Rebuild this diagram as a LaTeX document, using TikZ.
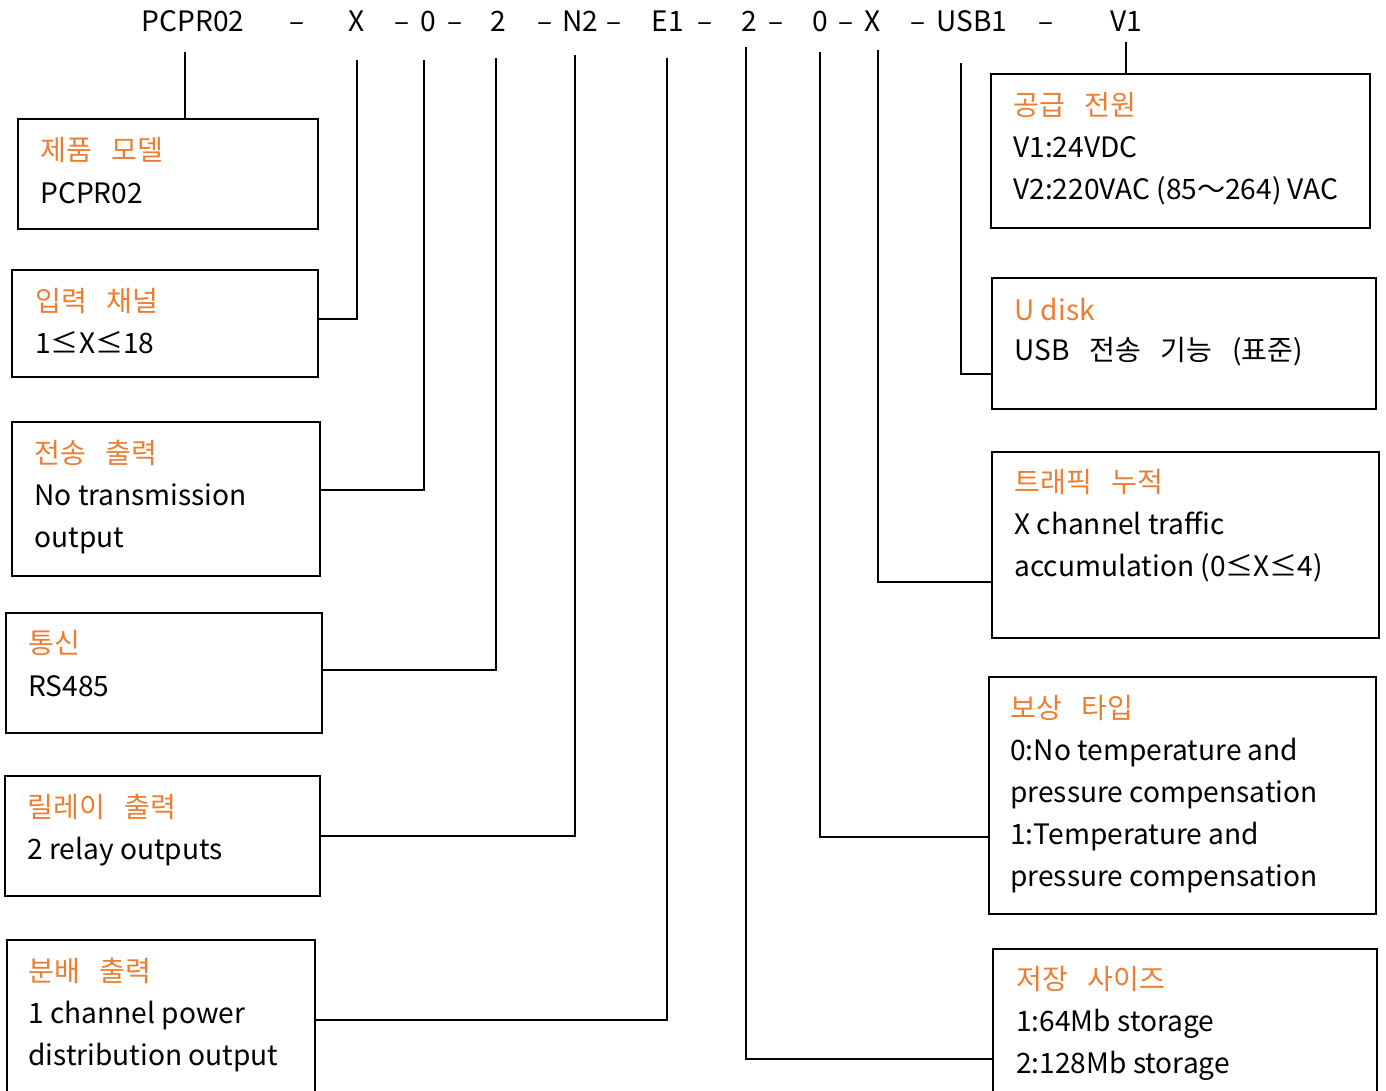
\documentclass[tikz,border=0pt]{standalone}
\usepackage{fontspec}
\setmainfont{Noto Sans CJK KR}
\usetikzlibrary{fit,positioning}
\definecolor{titleorange}{RGB}{237,125,49}
\newcommand{\ksp}{\hspace{0.7em}}

\tikzset{
  box/.style={draw, line width=1.1pt, inner sep=0pt},
  code/.style={anchor=base, inner sep=0pt},
  head/.style={anchor=base west, inner sep=0pt, text=titleorange},
  txt/.style={anchor=base west, inner sep=0pt},
  link/.style={line width=0.6pt}
}

\begin{document}
\begin{tikzpicture}[x=0.02cm, y=-0.02cm, font=\fontsize{16}{19}\selectfont]
  \path[use as bounding box, clip] (0,0) rectangle (1386,1090);

  % order code
  \node[code] (hP) at (193,31) {PCPR02};
  \node[code] (hX) at (357,31) {X};
  \node[code] (hZ) at (428,31) {0};
  \node[code] (hM) at (498,31) {2};
  \node[code] (hN) at (580,31) {N2};
  \node[code] (hE) at (668,31) {E1};
  \node[code] (hS) at (749,31) {2};
  \node[code] (hC) at (820,31) {0};
  \node[code] (hT) at (873,31) {X};
  \node[code] (hU) at (972,31) {USB1};
  \node[code] (hV) at (1126,31) {V1};
  \foreach \x [count=\i] in {297,402,455,545,614,705,776,846,918,1046}
    \node[code] (d\i) at (\x,31) {–};

  % left boxes
  \node[box, fit={(18,119) (318,229)}] (model) {};
  \node[head] (modelT) at (40,160) {제품\ksp 모델};
  \node[txt] (modelA) at (40,203) {PCPR02};

  \node[box, fit={(12,270) (318,377)}] (input) {};
  \node[head] (inputT) at (35,311) {입력\ksp 채널};
  \node[txt] (inputA) at (35,353) {1≤X≤18};

  \node[box, fit={(12,422) (320,576)}] (trans) {};
  \node[head] (transT) at (34,463) {전송\ksp 출력};
  \node[txt] (transA) at (34,505) {No transmission};
  \node[txt] (transB) at (34,547) {output};

  \node[box, fit={(6,613) (322,733)}] (comm) {};
  \node[head] (commT) at (28,653) {통신};
  \node[txt] (commA) at (28,696) {RS485};

  \node[box, fit={(5,776) (320,896)}] (relay) {};
  \node[head] (relayT) at (27,817) {릴레이\ksp 출력};
  \node[txt] (relayA) at (27,859) {2 relay outputs};

  \node[box, fit={(7,940) (315,1110)}] (distr) {};
  \node[head] (distrT) at (28,981) {분배\ksp 출력};
  \node[txt] (distrA) at (28,1023) {1 channel power};
  \node[txt] (distrB) at (28,1065) {distribution output};

  % right boxes
  \node[box, fit={(991,74) (1370,228)}] (power) {};
  \node[head] (powerT) at (1013,115) {공급\ksp 전원};
  \node[txt] (powerA) at (1013,157) {V1:24VDC};
  \node[txt] (powerB) at (1013,199) {V2:220VAC (85～264) VAC};

  \node[box, fit={(992,278) (1376,409)}] (udisk) {};
  \node[head] (udiskT) at (1014,320) {U disk};
  \node[txt] (udiskA) at (1014,360) {USB\ksp 전송\ksp 기능\ksp (표준)};

  \node[box, fit={(992,452) (1379,638)}] (traffic) {};
  \node[head] (trafficT) at (1014,492) {트래픽\ksp 누적};
  \node[txt] (trafficA) at (1014,534) {X channel traffic};
  \node[txt] (trafficB) at (1014,576) {accumulation (0≤X≤4)};

  \node[box, fit={(989,677) (1376,914)}] (comp) {};
  \node[head] (compT) at (1010,718) {보상\ksp 타입};
  \node[txt] (compA) at (1010,760) {0:No temperature and};
  \node[txt] (compB) at (1010,802) {pressure compensation};
  \node[txt] (compC) at (1010,844) {1:Temperature and};
  \node[txt] (compD) at (1010,886) {pressure compensation};

  \node[box, fit={(993,949) (1377,1110)}] (storage) {};
  \node[head] (storageT) at (1016,989) {저장\ksp 사이즈};
  \node[txt] (storageA) at (1016,1031) {1:64Mb storage};
  \node[txt] (storageB) at (1016,1073) {2:128Mb storage};

  % leader lines
  \draw[link] (hP) ++(-8,31) -- (model.north -| 185,0);
  \draw[link] (hX) ++(0,39) |- (input.east |- 0,319);
  \draw[link] (hZ) ++(-4,39) |- (trans.east |- 0,490);
  \draw[link] (hM) ++(-2,37) |- (comm.east |- 0,670);
  \draw[link] (hN) ++(-5,34) |- (relay.east |- 0,836);
  \draw[link] (hE) ++(-1,37) |- (distr.east |- 0,1020);
  \draw[link] (hS) ++(-3,26) |- (storage.west |- 0,1059);
  \draw[link] (hC) ++(0,31) |- (comp.west |- 0,837);
  \draw[link] (hT) ++(5,29) |- (traffic.west |- 0,582);
  \draw[link] (hU) ++(-11,42) |- (udisk.west |- 0,374);
  \draw[link] (hV) ++(0,21) -- (power.north -| hV);
\end{tikzpicture}
\end{document}
